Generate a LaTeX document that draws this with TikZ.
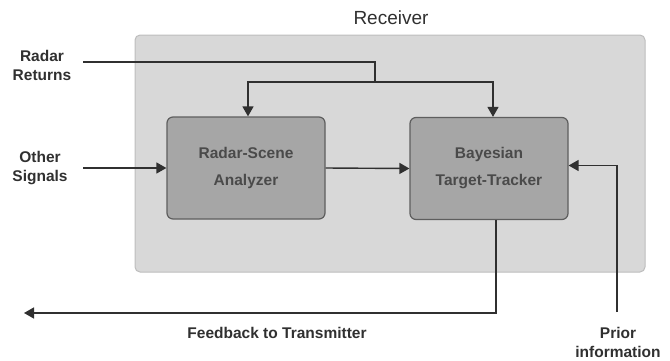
\documentclass[tikz,border=0pt]{standalone}
\usepackage{fontspec}
\setmainfont{Liberation Sans}
\usetikzlibrary{arrows.meta}
\definecolor{outerfill}{HTML}{D8D8D8}
\definecolor{outerdraw}{HTML}{BDBDBD}
\definecolor{innerfill}{HTML}{A6A6A6}
\definecolor{innerdraw}{HTML}{5E5E5E}
\definecolor{ink}{HTML}{303030}
\definecolor{boxink}{HTML}{4A4A4A}
\begin{document}
\begin{tikzpicture}[x=1pt,y=-1pt,
  outerbox/.style={draw=outerdraw,fill=outerfill,line width=1pt,rounded corners=5pt,minimum width=510pt,minimum height=237pt,inner sep=0pt},
  blockbox/.style={draw=innerdraw,fill=innerfill,line width=1.2pt,rounded corners=6pt,minimum width=158pt,minimum height=102pt,inner sep=0pt,align=center,text=boxink,font=\fontsize{15.5}{27}\selectfont\bfseries},
  lbl/.style={align=center,text=ink,font=\fontsize{15.5}{19}\selectfont\bfseries,inner sep=0pt},
  conn/.style={draw=ink,line width=1.4pt},
  arr/.style={conn,-{Triangle[length=10pt,width=11pt]}}
]
\useasboundingbox (0,0) rectangle (670,360);
\node[outerbox] (recv) at (390,153.5) {};
\node[lbl,font=\fontsize{19}{22}\selectfont] (recvlbl) at (391,18) {Receiver};
\node[blockbox] (rsa) at (246,168) {Radar-Scene\\Analyzer};
\node[blockbox] (btt) at (489,168.5) {Bayesian\\Target-Tracker};
\node[lbl] (rr) at (42,65.5) {Radar\\Returns};
\node[lbl] (os) at (40,168) {Other\\Signals};
\node[lbl] (pi) at (618,342.5) {Prior\\information};
\node[lbl] (fbl) at (277,333) {Feedback to Transmitter};
\coordinate (rrs) at (83,62);
\coordinate (split) at (375,82);
\coordinate (oss) at (83,168);
\coordinate (pis) at (617,312);
\coordinate (fbe) at (24,313);
\draw[conn] (rrs) -| (split);
\draw[arr] (split) -| ([xshift=2pt]rsa.north);
\draw[arr] (split) -| ([xshift=4pt]btt.north);
\draw[arr] (oss) -- (rsa.west);
\draw[arr] (rsa.east) -- (btt.west);
\draw[arr] (pis) |- ([yshift=3pt]btt.east);
\draw[arr] ([xshift=7pt]btt.south) |- (fbe);
\end{tikzpicture}
\end{document}
